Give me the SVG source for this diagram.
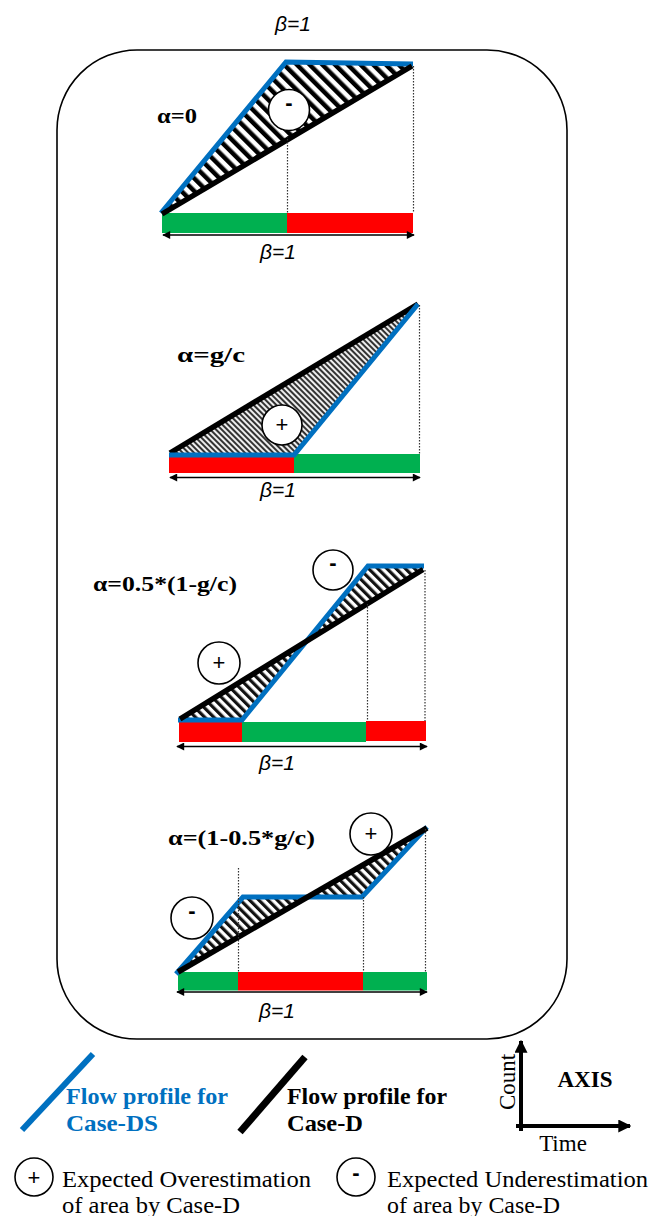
<svg xmlns="http://www.w3.org/2000/svg" width="665" height="1216" viewBox="0 0 665 1216">
<style>
.blue{fill:none;stroke:#0070C0;stroke-width:5;stroke-linejoin:miter;stroke-linecap:butt}
.blk{fill:none;stroke:#000;stroke-width:5.5;stroke-linecap:butt}
.dot{stroke:#333;stroke-width:1.2;stroke-dasharray:1.5 1.5;fill:none}
.arr{stroke:#000;stroke-width:1.6;fill:none}
.circ{fill:#fff;stroke:#000;stroke-width:1.6}
.sign{font-family:"Liberation Sans",Arial,sans-serif;font-size:22px;text-anchor:middle;fill:#000}
.beta{font-family:"Liberation Sans",Arial,sans-serif;font-style:italic;font-size:21px;text-anchor:middle;fill:#000}
.alpha{font-family:"Liberation Serif","Times New Roman",serif;font-weight:bold;font-size:22px;fill:#000}
.leg{font-family:"Liberation Serif","Times New Roman",serif;font-size:23px;fill:#000}
.legb{font-family:"Liberation Serif","Times New Roman",serif;font-size:23px;font-weight:bold}
.green{fill:#00B050}
.red{fill:#FF0000}
</style>
<defs>
<pattern id="h1" patternUnits="userSpaceOnUse" width="9" height="9" patternTransform="rotate(-45)"><rect width="9" height="9" fill="#fff"/><rect width="4.5" height="9" fill="#000"/></pattern>
<pattern id="h2" patternUnits="userSpaceOnUse" width="4" height="4" patternTransform="rotate(-45)"><rect width="4" height="4" fill="#eee"/><rect width="2" height="4" fill="#333"/></pattern>
<pattern id="h3" patternUnits="userSpaceOnUse" width="6.5" height="6.5" patternTransform="rotate(-45)"><rect width="6.5" height="6.5" fill="#fff"/><rect width="3.2" height="6.5" fill="#111"/></pattern>
<marker id="ah" viewBox="0 0 10 10" refX="9" refY="5" markerWidth="9" markerHeight="8" markerUnits="userSpaceOnUse" orient="auto-start-reverse"><path d="M0,0 L10,5 L0,10 z" fill="#000"/></marker>
<marker id="axh" viewBox="0 0 10 10" refX="9" refY="5" markerWidth="13" markerHeight="13" markerUnits="userSpaceOnUse" orient="auto"><path d="M0,0 L10,5 L0,10 z" fill="#000"/></marker>
</defs>
<rect width="665" height="1216" fill="#fff"/>

<g id="frame">
<rect x="57" y="50" width="510" height="989" rx="80" ry="80" fill="none" stroke="#000" stroke-width="1.6"/>
<text class="beta" x="293" y="31" font-size="22">β=1</text>
</g>

<g id="panel1">
<polygon points="162,213 286,62 413,64" fill="url(#h1)"/>
<rect class="green" x="162" y="213" width="125" height="20"/>
<rect class="red" x="287" y="213" width="126" height="20"/>
<polyline class="blue" points="161,213 286,62 413,64"/>
<line class="blk" x1="162" y1="214" x2="412" y2="66"/>
<circle class="circ" cx="289" cy="110" r="20.5"/>
<text class="sign" x="289" y="110" font-weight="bold">-</text>
<text class="alpha" x="157" y="123" textLength="40" lengthAdjust="spacingAndGlyphs">α=0</text>
<text class="beta" x="278" y="259">β=1</text>
</g>

<g id="panel2">
<polygon points="170,453 294,454 418,304" fill="url(#h2)"/>
<rect class="red" x="169" y="454" width="125" height="19"/>
<rect class="green" x="294" y="454" width="126" height="19"/>
<line class="blk" x1="170" y1="453" x2="418" y2="304"/>
<polyline class="blue" points="169,455 294,455 418,304"/>
<circle class="circ" cx="282" cy="425" r="20"/>
<text class="sign" x="282" y="432">+</text>
<text class="alpha" x="177" y="362" font-size="24" textLength="68" lengthAdjust="spacingAndGlyphs">α=g/c</text>
<text class="beta" x="278" y="497">β=1</text>
</g>

<g id="panel3">
<polygon points="180,719 242,720 307,640.4" fill="url(#h3)"/>
<polygon points="307,640.4 368,566 423,566 423,569.5" fill="url(#h3)"/>
<rect class="red" x="179" y="722" width="63" height="20"/>
<rect class="green" x="242" y="722" width="124" height="20"/>
<rect class="red" x="366" y="721" width="60" height="20"/>
<polyline class="blue" points="178,720 242,720 368,566 424,566"/>
<line class="blk" x1="180" y1="719" x2="423" y2="569.5"/>
<circle class="circ" cx="333" cy="570" r="20"/>
<text class="sign" x="333" y="570" font-weight="bold">-</text>
<circle class="circ" cx="219" cy="663" r="21"/>
<text class="sign" x="219" y="670">+</text>
<text class="alpha" x="93" y="591" textLength="144" lengthAdjust="spacingAndGlyphs">α=0.5*(1-g/c)</text>
<text class="beta" x="277" y="770">β=1</text>
</g>

<g id="panel4">
<polygon points="178,972 243,897 308,897" fill="url(#h3)"/>
<polygon points="308,897 362,897 426,828" fill="url(#h3)"/>
<rect class="green" x="178" y="972" width="60" height="18.5"/>
<rect class="red" x="238" y="972" width="125" height="18.5"/>
<rect class="green" x="363" y="972" width="64" height="18.5"/>
<polyline class="blue" points="176,974 243,897 362,897 427,827"/>
<line class="blk" x1="178" y1="972" x2="427" y2="828" stroke-width="6.5"/>
<circle class="circ" cx="192" cy="918" r="21"/>
<text class="sign" x="192" y="918" font-weight="bold">-</text>
<circle class="circ" cx="371" cy="834" r="21"/>
<text class="sign" x="371" y="841">+</text>
<text class="alpha" x="168" y="845" textLength="147" lengthAdjust="spacingAndGlyphs">α=(1-0.5*g/c)</text>
<text class="beta" x="277" y="1018">β=1</text>
</g>

<g id="connectors">
<line class="dot" x1="287.5" y1="136" x2="287.5" y2="213"/>
<line class="dot" x1="413.5" y1="66" x2="413.5" y2="213"/>
<line class="dot" x1="419.5" y1="305" x2="419.5" y2="454"/>
<line class="dot" x1="367.5" y1="604" x2="367.5" y2="721"/>
<line class="dot" x1="425" y1="570" x2="425" y2="721"/>
<line class="dot" x1="238.5" y1="868" x2="238.5" y2="972"/>
<line class="dot" x1="363.5" y1="897" x2="363.5" y2="972"/>
<line class="dot" x1="425.5" y1="829" x2="425.5" y2="972"/>
<line class="arr" x1="163" y1="235" x2="414" y2="235" marker-start="url(#ah)" marker-end="url(#ah)"/>
<line class="arr" x1="170" y1="477.5" x2="420" y2="477.5" marker-start="url(#ah)" marker-end="url(#ah)"/>
<line class="arr" x1="177" y1="746.5" x2="427" y2="746.5" marker-start="url(#ah)" marker-end="url(#ah)"/>
<line class="arr" x1="177" y1="992" x2="427" y2="992" marker-start="url(#ah)" marker-end="url(#ah)"/>
</g>

<g id="legend-ds">
<line x1="22" y1="1130" x2="93" y2="1054" stroke="#0070C0" stroke-width="6"/>
<text class="legb" x="66" y="1104" fill="#0070C0" textLength="162" lengthAdjust="spacingAndGlyphs">Flow profile for</text>
<text class="legb" x="66" y="1131" fill="#0070C0" textLength="92" lengthAdjust="spacingAndGlyphs">Case-DS</text>
</g>

<g id="legend-d">
<line x1="240" y1="1132" x2="305" y2="1057" stroke="#000" stroke-width="7"/>
<text class="legb" x="287" y="1104" fill="#000" textLength="160" lengthAdjust="spacingAndGlyphs">Flow profile for</text>
<text class="legb" x="287" y="1131" fill="#000" textLength="76" lengthAdjust="spacingAndGlyphs">Case-D</text>
</g>

<g id="legend-axis">
<line x1="521" y1="1131" x2="521" y2="1041" stroke="#000" stroke-width="4" marker-end="url(#axh)"/>
<line x1="516" y1="1126" x2="630" y2="1126" stroke="#000" stroke-width="4" marker-end="url(#axh)"/>
<text class="leg" x="0" y="0" font-size="25" text-anchor="middle" transform="translate(515,1082) rotate(-90)">Count</text>
<text class="leg" x="563" y="1151" font-size="25" text-anchor="middle">Time</text>
<text class="legb" x="585" y="1087" fill="#000" text-anchor="middle" textLength="55" lengthAdjust="spacingAndGlyphs">AXIS</text>
</g>

<g id="legend-over">
<circle class="circ" cx="34" cy="1177" r="19"/>
<text class="sign" x="34" y="1185" font-size="26">+</text>
<text class="leg" x="62" y="1187" textLength="249" lengthAdjust="spacingAndGlyphs">Expected Overestimation</text>
<text class="leg" x="62" y="1213" textLength="178" lengthAdjust="spacingAndGlyphs">of area by Case-D</text>
</g>

<g id="legend-under">
<circle class="circ" cx="356" cy="1177" r="19"/>
<text class="sign" x="356" y="1180" font-weight="bold" font-size="26">-</text>
<text class="leg" x="387" y="1187" textLength="261" lengthAdjust="spacingAndGlyphs">Expected Underestimation</text>
<text class="leg" x="387" y="1213" textLength="173" lengthAdjust="spacingAndGlyphs">of area by Case-D</text>
</g>
</svg>
